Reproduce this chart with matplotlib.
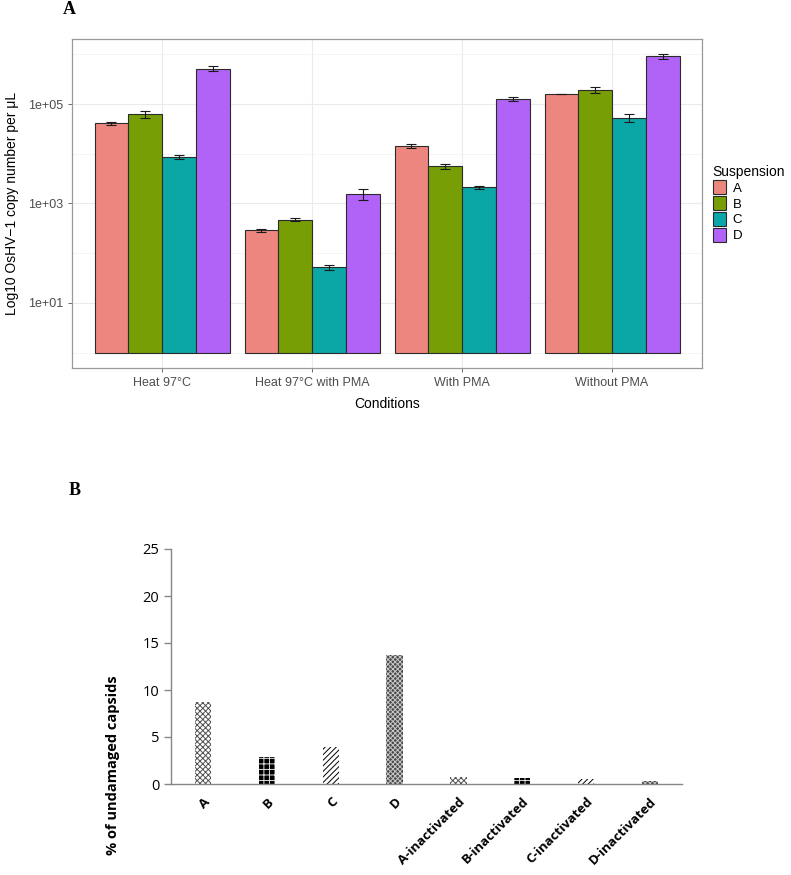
import numpy as np
import matplotlib
matplotlib.use("Agg")
import matplotlib.pyplot as plt
from matplotlib.ticker import FixedLocator, NullFormatter

plt.rcParams["hatch.linewidth"] = 0.7

# Panel A data: OsHV-1 copy number per uL (log scale)
conditions = ["Heat 97°C", "Heat 97°C with PMA", "With PMA", "Without PMA"]
suspensions = ["A", "B", "C", "D"]
copies_A = [4.1e4, 2.86e2, 1.43e4, 1.59e5]
copies_B = [6.3e4, 4.75e2, 5.6e3, 1.94e5]
copies_C = [8.6e3, 5.1e1, 2.1e3, 5.3e4]
copies_D = [5.2e5, 1.57e3, 1.26e5, 9.1e5]
err_A = [3.0e3, 15, 1.4e3, 2.0e3]
err_B = [1.0e4, 25, 7.0e2, 2.8e4]
err_C = [7.0e2, 6, 1.0e2, 9.0e3]
err_D = [5.5e4, 400, 1.3e4, 1.0e5]
susp_colors = ["#EE8680", "#779E05", "#0BA6A6", "#B063F6"]

# Panel B data: % of undamaged capsids
capsid_labels = ["A", "B", "C", "D", "A-inactivated", "B-inactivated",
                 "C-inactivated", "D-inactivated"]
capsid_pct = [8.7, 2.85, 3.95, 13.7, 0.7, 0.68, 0.55, 0.28]

W, H = 791, 875
fig = plt.figure(figsize=(W / 100, H / 100), dpi=100)

# ---------------- Panel A ----------------
axA = fig.add_axes([72 / W, 1 - 368 / H, (702 - 72) / W, (368 - 39) / H])
axA.set_yscale("log")
values = [copies_A, copies_B, copies_C, copies_D]
errors = [err_A, err_B, err_C, err_D]
x = np.arange(1, len(conditions) + 1)
width = 0.225
for k, s in enumerate(suspensions):
    offset = (k - 1.5) * width
    axA.bar(x + offset, values[k], width, bottom=1, color=susp_colors[k],
            edgecolor="#2b2b2b", linewidth=0.8, label=s, zorder=3)
    axA.errorbar(x + offset, values[k], yerr=errors[k], fmt="none",
                 ecolor="#1a1a1a", elinewidth=0.8, capsize=3.5, capthick=0.8, zorder=4)

axA.set_xlim(0.4, 4.6)
axA.set_ylim(10 ** -0.31, 10 ** 6.31)
axA.set_xticks(x)
axA.set_xticklabels(conditions, fontsize=9, color="#4D4D4D", family="Liberation Sans")
axA.yaxis.set_major_locator(FixedLocator([1e1, 1e3, 1e5]))
axA.set_yticklabels(["1e+01", "1e+03", "1e+05"], fontsize=9, color="#4D4D4D",
                    family="Liberation Sans")
axA.yaxis.set_minor_locator(FixedLocator([1e0, 1e2, 1e4, 1e6]))
axA.yaxis.set_minor_formatter(NullFormatter())
axA.tick_params(axis="y", which="minor", length=0)
axA.tick_params(axis="both", which="major", length=3, color="#555555", width=0.6)
axA.grid(True, which="major", color="#EBEBEB", linewidth=0.8, zorder=0)
axA.grid(True, which="minor", axis="y", color="#F2F2F2", linewidth=0.5, zorder=0)
axA.set_axisbelow(True)
for sp in axA.spines.values():
    sp.set_color("#9a9a9a")
    sp.set_linewidth(0.9)
axA.set_xlabel("Conditions", fontsize=10, family="Liberation Sans", labelpad=6)
axA.set_ylabel("Log10 OsHV\u22121 copy number per \u03bcL", fontsize=10,
               family="Liberation Sans", labelpad=6)
leg = axA.legend(title="Suspension", loc="center left", bbox_to_anchor=(1.017, 0.5),
                 frameon=False, borderaxespad=0, borderpad=0,
                 handlelength=1.0, handleheight=1.25, handletextpad=0.5,
                 labelspacing=0.12, prop={"family": "Liberation Sans", "size": 9.5})
leg.get_title().set_family("Liberation Sans")
leg.get_title().set_fontsize(10)
leg._legend_box.align = "left"
for h in leg.legend_handles:
    h.set_edgecolor("#2b2b2b")

fig.text(63 / W, 1 - 9 / H, "A", fontsize=13, fontweight="bold",
         family="Liberation Serif", va="center", ha="left")

# ---------------- Panel B ----------------
axB = fig.add_axes([171.3 / W, 1 - 784 / H, (681.7 - 171.3) / W, (784 - 549) / H])
hatch_styles = [
    ("white", "xxxxxx", "#505050"),
    ("black", "+++", "#e0e0e0"),
    ("white", "//////", "black"),
    ("#4a4a4a", "xxxxxxx", "#c8c8c8"),
]
xb = np.arange(len(capsid_labels))
for i, v in enumerate(capsid_pct):
    face, hatch, hcol = hatch_styles[i % 4]
    axB.bar(xb[i], v, 0.26, facecolor=face, hatch=hatch, edgecolor=hcol, linewidth=0)

axB.set_xlim(-0.5, len(capsid_labels) - 0.5)
axB.set_ylim(0, 25)
axB.set_yticks([0, 5, 10, 15, 20, 25])
axB.tick_params(axis="y", labelsize=10.5, length=5, color="#868686", width=1, direction="out")
for lab in axB.get_yticklabels():
    lab.set_family("Open Sans")
axB.set_xticks(xb)
axB.set_xticklabels(capsid_labels, rotation=45, ha="right", rotation_mode="anchor",
                    fontsize=9.5, fontweight="bold", family="Open Sans")
axB.tick_params(axis="x", length=0, pad=8)
for side in ["top", "right"]:
    axB.spines[side].set_visible(False)
for side in ["left", "bottom"]:
    axB.spines[side].set_color("#868686")
    axB.spines[side].set_linewidth(1)
axB.set_ylabel("% of undamaged capsids", fontsize=10.5, fontweight="bold", family="Open Sans")
axB.yaxis.set_label_coords(-0.1, 0.08)

fig.text(69 / W, 1 - 490 / H, "B", fontsize=13, fontweight="bold",
         family="Liberation Serif", va="center", ha="left")

fig.savefig("out.png", dpi=100)
